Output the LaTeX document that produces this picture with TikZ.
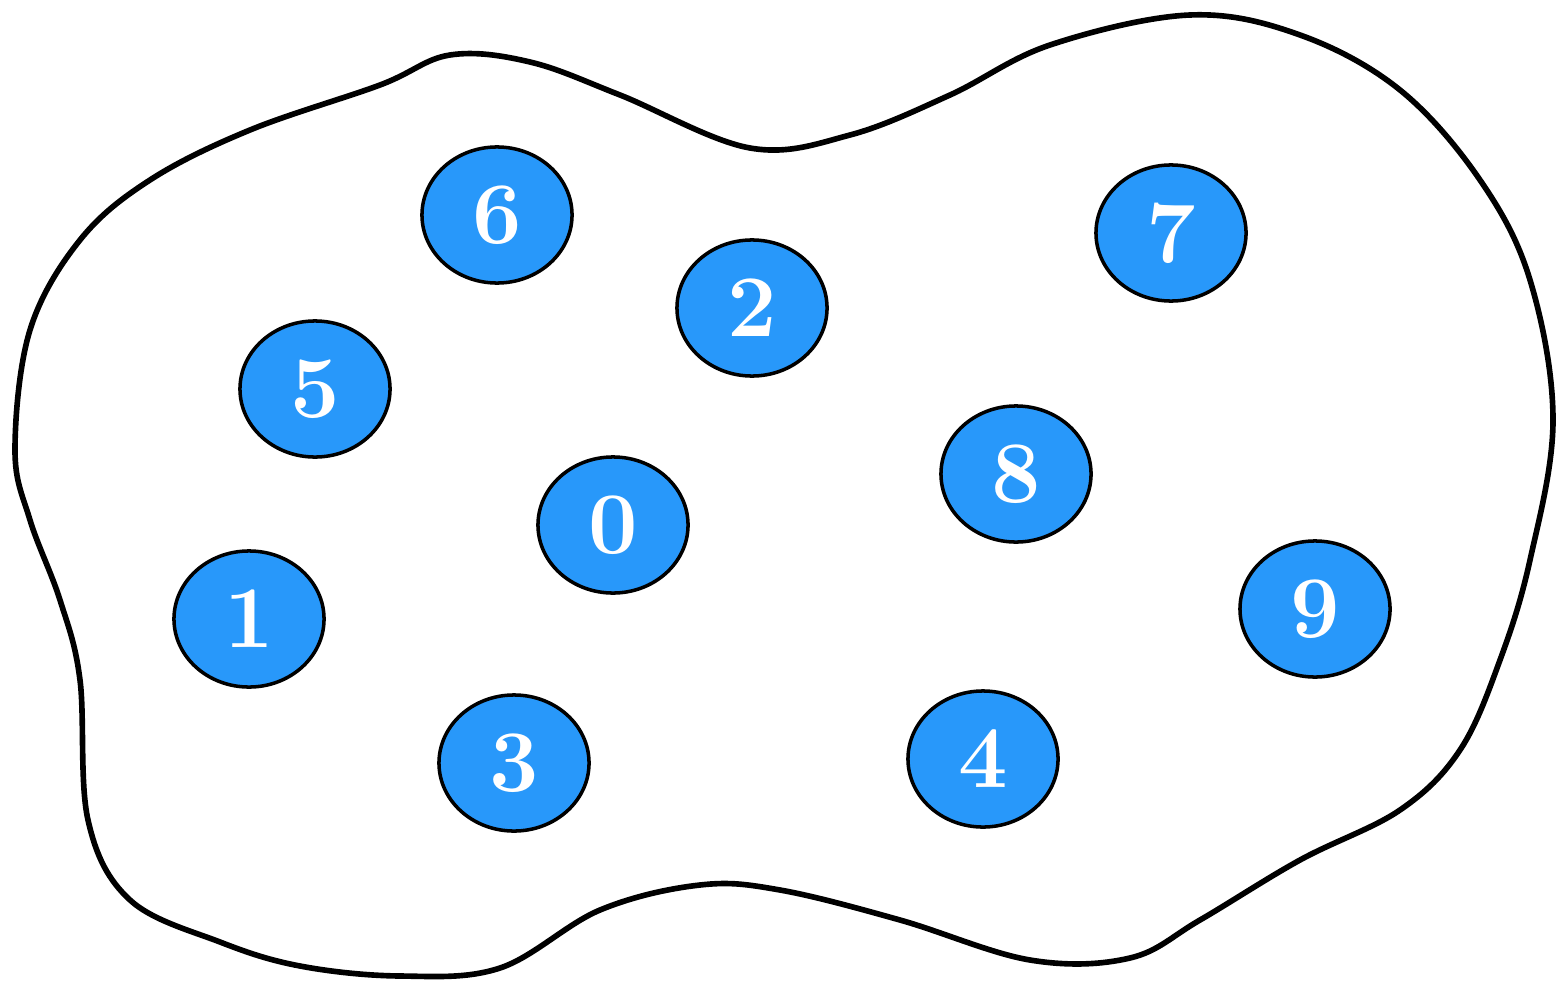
\documentclass[tikz,border=0pt]{standalone}
\usetikzlibrary{shapes.geometric}
\definecolor{ballblue}{RGB}{40,152,250}
\begin{document}
\begin{tikzpicture}[x=0.01cm,y=-0.01cm,
  ball/.style={ellipse,draw=black,line width=1pt,fill=ballblue,text=white,
    minimum width=1.5cm,minimum height=1.36cm,inner sep=0pt,
    font=\fontsize{25}{30}\selectfont\bfseries},
  blob/.style={draw=black,line width=1.6pt}]
\useasboundingbox (0,0) rectangle (1558,982);
\draw[blob] plot[smooth cycle,tension=0.6] coordinates {
 (15,450) (30,330) (80,240) (150,180) (250,130) (380,85) (450,55) (530,62)
 (620,95) (750,148) (850,135) (950,95) (1050,45) (1190,15) (1300,35)
 (1400,90) (1480,180) (1530,280) (1553,420) (1530,560) (1500,660)
 (1460,750) (1400,810) (1300,860) (1200,920) (1130,958) (1030,960)
 (900,920) (780,890) (700,885) (600,910) (500,968) (400,976) (300,966)
 (220,942) (130,900) (88,820) (80,680) (60,600) (30,520)};
\node[ball] (n6) at (497,215) {6};
\node[ball] (n2) at (752,308) {2};
\node[ball] (n7) at (1171,233) {7};
\node[ball] (n5) at (315,389) {5};
\node[ball] (n0) at (613,525) {0};
\node[ball] (n8) at (1016,474) {8};
\node[ball] (n1) at (249,619) {1};
\node[ball] (n9) at (1315,609) {9};
\node[ball] (n3) at (514,763) {3};
\node[ball] (n4) at (983,759) {4};
\end{tikzpicture}
\end{document}
